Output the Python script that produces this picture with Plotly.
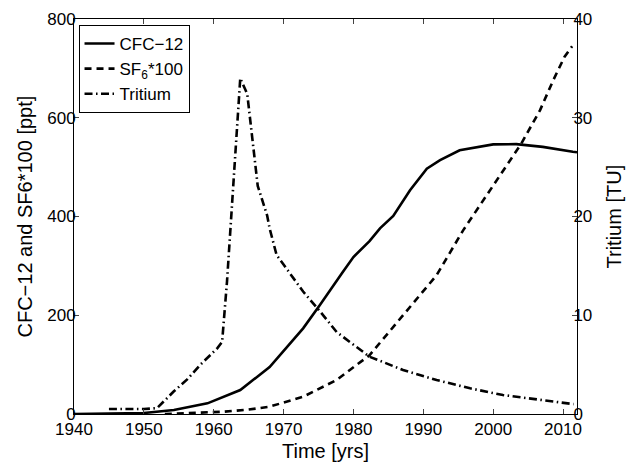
import plotly.graph_objects as go

# CFC-12 [ppt]
cfc_years = [1940, 1945, 1950, 1954.3, 1959.1, 1963.8, 1968.0, 1972.8, 1975.2, 1978.5,
             1980.0, 1982.3, 1983.8, 1985.7, 1988.1, 1990.5, 1992.4, 1995.2, 2000.0,
             2003.3, 2007.1, 2011.4, 2012.0]
cfc_vals = [0, 0.5, 2, 8, 21.6, 48.6, 95, 173.5, 220.6, 288,
            318, 350, 376, 401, 453, 497, 514, 534, 546,
            546.6, 541, 531, 530]

# SF6*100 [ppt]
sf6_years = [1953, 1958, 1961.5, 1965, 1968.0, 1972.8, 1977.6, 1982.3, 1987.1, 1991.9,
             1995.7, 1996.7, 2004.0, 2006.7, 2008.6, 2010.2, 2011.3]
sf6_vals = [0, 2, 4.7, 9, 14.8, 35, 69, 119, 200, 281,
            372, 393, 547, 615, 676, 723, 745]

# Tritium [TU]
tri_years = [1945, 1950, 1951.9, 1954.3, 1956.2, 1958.1, 1960.5, 1961.2, 1961.9, 1962.5,
             1963.4, 1963.8, 1964.8, 1965.75, 1966.3, 1967.65, 1968.0, 1969.0, 1972.8,
             1975.2, 1977.6, 1982.3, 1987.1, 1991.9, 1996.7, 2001.4, 2010.5, 2011.5]
tri_vals = [0.5, 0.5, 0.6, 2.3, 3.5, 5.0, 6.65, 7.3, 13.4, 19.8,
            29.9, 34.0, 32.4, 26.5, 23.1, 20.1, 18.8, 16.1, 12.4,
            10.4, 8.3, 5.8, 4.46, 3.44, 2.6, 1.92, 1.08, 1.0]

x_ticks = [1940, 1950, 1960, 1970, 1980, 1990, 2000, 2010]
y_left_ticks = [0, 200, 400, 600, 800]
y_right_ticks = [0, 10, 20, 30, 40]

x_title = "Time [yrs]"
y_left_title = "CFC\u221212 and SF6*100 [ppt]"
y_right_title = "Tritium [TU]"

FONT = "Liberation Sans, Arial, sans-serif"

fig = go.Figure()
fig.add_trace(go.Scatter(x=cfc_years, y=cfc_vals, mode="lines", name="CFC\u221212",
                         line=dict(color="black", width=2.6)))
fig.add_trace(go.Scatter(x=sf6_years, y=sf6_vals, mode="lines", name="SF<sub>6</sub>*100",
                         line=dict(color="black", width=2.6, dash="7px,5px")))
fig.add_trace(go.Scatter(x=tri_years, y=tri_vals, mode="lines", name="Tritium", yaxis="y2",
                         line=dict(color="black", width=2.6, dash="8px,3.5px,1.5px,3.5px")))

fig.update_layout(
    width=627, height=462,
    margin=dict(l=74, r=50, t=19, b=48),
    paper_bgcolor="white", plot_bgcolor="white",
    font=dict(family=FONT, size=17, color="black"),
    showlegend=True,
    legend=dict(x=0.009, y=0.985, xanchor="left", yanchor="top",
                bordercolor="black", borderwidth=1, bgcolor="white",
                itemwidth=30, tracegroupgap=0,
                font=dict(size=17, family=FONT)),
    xaxis=dict(range=[1940, 2012], tickvals=x_ticks, ticks="inside", ticklen=5,
               showline=True, linecolor="black", linewidth=1, mirror="ticks",
               showgrid=False, zeroline=False, automargin=False),
    yaxis=dict(range=[0, 800], tickvals=y_left_ticks, ticks="inside", ticklen=5,
               showline=True, linecolor="black", linewidth=1,
               showgrid=False, zeroline=False, automargin=False,
               ticklabelstandoff=-6),
    yaxis2=dict(range=[0, 40], tickvals=y_right_ticks, ticks="inside", ticklen=5,
                overlaying="y", side="right",
                showline=True, linecolor="black", linewidth=1,
                showgrid=False, zeroline=False, automargin=False,
                ticklabelstandoff=-8),
    annotations=[
        dict(text=x_title, xref="paper", yref="paper", x=0.5, y=0,
             xanchor="center", yanchor="top", yshift=-24, showarrow=False,
             font=dict(size=20, family=FONT)),
        dict(text=y_left_title, xref="paper", yref="paper", x=0, y=0.5,
             xanchor="center", yanchor="middle", xshift=-50, textangle=-90,
             showarrow=False, font=dict(size=20, family=FONT)),
        dict(text=y_right_title, xref="paper", yref="paper", x=1, y=0.5,
             xanchor="center", yanchor="middle", xshift=36, textangle=-90,
             showarrow=False, font=dict(size=20, family=FONT)),
    ],
)

fig.write_html("out.html", config={"displayModeBar": False},
               post_script="document.body.style.margin='0px';")
